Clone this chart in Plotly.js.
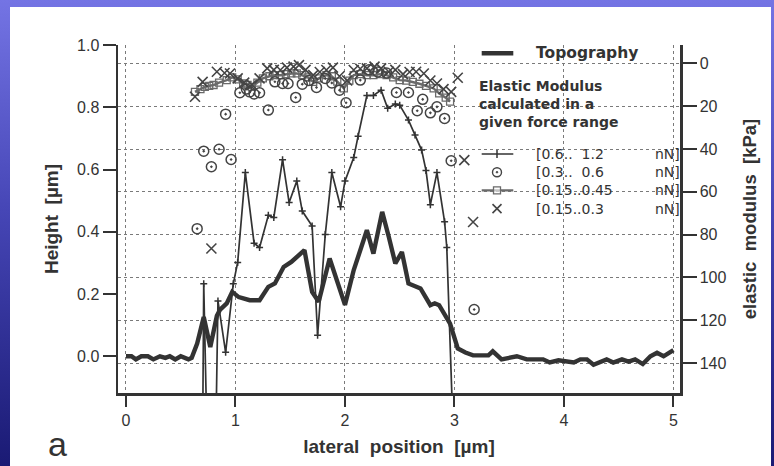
<!DOCTYPE html>
<html>
<head>
<meta charset="utf-8">
<script src="https://cdn.plot.ly/plotly-3.0.1.min.js"></script>
<style>
  html, body { margin: 0; padding: 0; width: 774px; height: 466px; overflow: hidden; }
  body { background: linear-gradient(180deg, #7474e4 0%, #4646b6 45%, #1a1a74 100%); position: relative; }
  #panel { position: absolute; left: 10px; top: 7px; width: 761px; height: 459px; background: #ffffff; }
  #plot { position: absolute; left: 0; top: 0; width: 774px; height: 466px; }
</style>
</head>
<body>
<div id="panel"></div>
<div id="plot"></div>
<script>
// ---------------- data ----------------
// Topography (height, µm) vs lateral position (µm)
const topoX = [0, 0.05, 0.09, 0.14, 0.2, 0.25, 0.31, 0.36, 0.4, 0.45, 0.5, 0.57, 0.6, 0.65, 0.71, 0.77, 0.83, 0.86, 0.92, 0.97,
  1.03, 1.13, 1.22, 1.30, 1.36, 1.44, 1.51, 1.59, 1.63, 1.70, 1.76, 1.86, 2.00, 2.08, 2.12, 2.20, 2.26, 2.34, 2.40, 2.46,
  2.52, 2.58, 2.69, 2.78, 2.82, 2.86, 2.96, 3.03, 3.10, 3.17, 3.31, 3.35, 3.43, 3.57, 3.66, 3.81, 3.87, 3.95, 4.09, 4.15,
  4.21, 4.27, 4.39, 4.45, 4.53, 4.59, 4.65, 4.72, 4.79, 4.85, 4.91, 5.0];
const topoH = [0, 0, -0.01, 0, 0, -0.01, 0, -0.005, 0, -0.01, 0, -0.01, -0.005, 0.041, 0.126, 0.03, 0.13, 0.15, 0.17, 0.207,
  0.19, 0.18, 0.18, 0.223, 0.234, 0.287, 0.303, 0.33, 0.341, 0.207, 0.175, 0.314, 0.165, 0.277, 0.319, 0.405, 0.33, 0.464, 0.384, 0.298,
  0.335, 0.234, 0.218, 0.164, 0.17, 0.164, 0.105, 0.025, 0.012, 0.003, 0.003, 0.016, -0.01, 0.0, -0.01, -0.01, -0.02, -0.013, -0.02, -0.01,
  -0.01, -0.027, -0.01, -0.02, -0.01, -0.017, -0.01, -0.025, 0.0, 0.011, 0.0, 0.02];

// Elastic modulus (kPa), force range [0.6 .. 1.2 nN]  (values beyond the axis are off-scale)
const e12X = [0.70, 0.71, 0.74, 0.82, 0.84, 0.91, 0.98, 1.02, 1.09, 1.17, 1.22, 1.30, 1.35, 1.43, 1.49, 1.56, 1.61, 1.70, 1.75, 1.82,
  1.88, 1.96, 2.00, 2.08, 2.12, 2.20, 2.26, 2.33, 2.39, 2.46, 2.50, 2.58, 2.64, 2.70, 2.74, 2.78, 2.84, 2.91, 2.93, 2.99];
const e12Y = [175, 103, 175, 175, 111, 135, 103, 93, 51, 84, 86, 71, 72, 45, 65, 55, 69, 76, 127, 80,
  51, 67, 55, 44, 34, 15, 15, 12.5, 21, 19, 19.5, 26.5, 33.5, 40.5, 50, 66, 51, 74, 86, 175];

// [0.3 .. 0.6 nN]
const e06X = [0.65, 0.71, 0.78, 0.85, 0.91, 0.96, 1.04, 1.10, 1.13, 1.17, 1.22, 1.30, 1.36, 1.43, 1.48, 1.55, 1.61, 1.67, 1.74, 1.82,
  1.88, 1.95, 2.01, 2.14, 2.22, 2.30, 2.38, 2.47, 2.58, 2.66, 2.71, 2.78, 2.84, 2.91, 2.97, 3.18];
const e06Y = [77.2, 41.0, 48.3, 40.1, 23.7, 44.9, 13.7, 12, 13.3, 14.3, 13.7, 21.8, 8.6, 9.4, 9.4, 15.9, 9.7, 8, 11.2, 7,
  9.1, 12.5, 18.4, 7.8, 3, 4, 4.5, 13.6, 13.6, 22.1, 16.8, 23.1, 20.3, 25.7, 45.5, 115];

// [0.15 .. 0.45 nN]
const e045X = [0.63, 0.68, 0.72, 0.76, 0.80, 0.85, 0.92, 0.97, 1.02, 1.07, 1.11, 1.15, 1.20, 1.25, 1.31, 1.36, 1.41, 1.46, 1.51, 1.56,
  1.61, 1.66, 1.71, 1.76, 1.83, 1.88, 1.93, 1.99, 2.04, 2.08, 2.14, 2.20, 2.26, 2.32, 2.38, 2.44, 2.50, 2.56, 2.62, 2.68,
  2.74, 2.81, 2.86, 2.92, 2.96];
const e045Y = [13.3, 12, 11, 10.5, 10.1, 9, 7.8, 6.5, 7.5, 9.4, 10, 11, 9, 7, 6, 5.5, 5.5, 5, 4.7, 4.7,
  5.5, 6.5, 8.6, 7, 5.5, 6, 8.5, 11.7, 8, 5.5, 5, 5.5, 5.5, 5, 5.5, 6.5, 7.8, 8, 8.6, 9.5,
  10.5, 11.7, 14, 16, 17.9];

// [0.15 .. 0.3 nN]
const e03X = [0.63, 0.70, 0.78, 0.83, 0.90, 0.95, 1.02, 1.08, 1.15, 1.22, 1.29, 1.35, 1.41, 1.47, 1.53, 1.58, 1.64, 1.71, 1.77, 1.83,
  1.89, 1.95, 2.02, 2.08, 2.14, 2.20, 2.27, 2.33, 2.40, 2.46, 2.53, 2.59, 2.65, 2.72, 2.78, 2.84, 2.90, 2.97, 3.03, 3.09, 3.17];
const e03Y = [15.6, 8.6, 86.5, 3.9, 4.5, 4.7, 7, 9, 10, 7, 2.3, 3, 3.1, 2, 1.5, 0.8, 3, 5.5, 4, 3.1,
  2, 6, 8, 3.1, 2.5, 2.3, 1.5, 2.3, 3.9, 3, 5, 4, 3.9, 4.7, 8, 9.4, 12, 13.3, 6.7, 45.2, 74.1];

const xTicks = [0, 1, 2, 3, 4, 5];
const hTicks = [0, 0.2, 0.4, 0.6, 0.8, 1.0];
const eTicks = [0, 20, 40, 60, 80, 100, 120, 140];
const legendHead = ['Elastic Modulus', 'calculated in a', 'given force range'];
const legendLabels = ['[0.6..&nbsp; 1.2', '[0.3..&nbsp; 0.6', '[0.15..0.45', '[0.15..0.3'];
const legendUnit = 'nN]';

// ---------------- styling ----------------
const INK = '#333333';
const FONT = 'Liberation Sans, Arial, Helvetica, sans-serif';
const LFONT = 'DejaVu Sans, Verdana, sans-serif';
const M = {l: 118, r: 94, t: 45, b: 73};
const W = 774, H = 466;
const PW = W - M.l - M.r, PH = H - M.t - M.b;
const px = v => (v - M.l) / PW;          // pixel -> paper x
const py = v => 1 - (v - M.t) / PH;      // pixel -> paper y

const traces = [
  {x: topoX, y: topoH, type: 'scatter', mode: 'lines', yaxis: 'y',
   line: {color: INK, width: 4.4}, hoverinfo: 'skip', showlegend: false},
  {x: e045X, y: e045Y, type: 'scatter', mode: 'lines+markers', yaxis: 'y2',
   line: {color: '#6a6a6a', width: 2.4}, marker: {symbol: 'square-open', size: 7, color: '#6a6a6a', line: {color: '#6a6a6a', width: 1.3}},
   hoverinfo: 'skip', showlegend: false},
  {x: e12X, y: e12Y, type: 'scatter', mode: 'lines+markers', yaxis: 'y2',
   line: {color: INK, width: 1.7}, marker: {symbol: 'cross-thin-open', size: 5, line: {color: INK, width: 1.5}},
   hoverinfo: 'skip', showlegend: false},
  {x: e06X, y: e06Y, type: 'scatter', mode: 'markers', yaxis: 'y2',
   marker: {symbol: 'circle-open-dot', size: 10, color: '#444', line: {color: '#444', width: 1.5}},
   hoverinfo: 'skip', showlegend: false},
  {x: e03X, y: e03Y, type: 'scatter', mode: 'markers', yaxis: 'y2',
   marker: {symbol: 'x-thin-open', size: 10, color: '#444', line: {color: '#444', width: 1.6}},
   hoverinfo: 'skip', showlegend: false}
];

const ann = [];
const shapes = [];
function text(t, x, y, size, bold, anchor, family) {
  ann.push({text: bold ? '<b>' + t + '</b>' : t, xref: 'paper', yref: 'paper', x: px(x), y: py(y),
    xanchor: anchor || 'left', yanchor: 'middle', align: 'left', showarrow: false,
    font: {family: family || LFONT, size: size, color: INK}});
}
function seg(x0, y0, x1, y1, w, c) {
  shapes.push({type: 'line', xref: 'paper', yref: 'paper', x0: px(x0), y0: py(y0), x1: px(x1), y1: py(y1),
    line: {color: c || INK, width: w}});
}
// legend block
const LS = 14, LH = LS * 1.3;
seg(481.7, 53.3, 513.3, 53.3, 4.4);
text('Topography', 534, 53.3, 15.5, true);
text(legendHead.join('<br>'), 477, 86 + LH, LS, true);
const row0 = 154;
const rowY = [0, 1, 2, 3].map(i => row0 + i * LH);
text(legendLabels.join('<br>'), 534, row0 + 1.5 * LH, LS, false);
text([0, 1, 2, 3].map(() => legendUnit).join('<br>'), 653, row0 + 1.5 * LH, LS, false);
// key 1: thin line with +
seg(481.7, rowY[0], 513.3, rowY[0], 1.7);
seg(497, rowY[0] - 4, 497, rowY[0] + 4, 1.5);
// key 2: circle with dot
shapes.push({type: 'circle', xref: 'paper', yref: 'paper', x0: px(492.5), x1: px(501.5), y0: py(rowY[1] + 4.5), y1: py(rowY[1] - 4.5),
  line: {color: '#444', width: 1.4}});
shapes.push({type: 'circle', xref: 'paper', yref: 'paper', x0: px(496.2), x1: px(497.8), y0: py(rowY[1] + 0.8), y1: py(rowY[1] - 0.8),
  line: {color: '#444', width: 1}, fillcolor: '#444'});
// key 3: line with square
seg(481.7, rowY[2], 513.3, rowY[2], 2.4, '#6a6a6a');
shapes.push({type: 'rect', xref: 'paper', yref: 'paper', x0: px(493.5), x1: px(500.5), y0: py(rowY[2] + 3.5), y1: py(rowY[2] - 3.5),
  line: {color: '#6a6a6a', width: 1.3}, fillcolor: 'rgba(255,255,255,0.6)'});
// key 4: x
seg(492.5, rowY[3] - 4.5, 501.5, rowY[3] + 4.5, 1.6, '#444');
seg(492.5, rowY[3] + 4.5, 501.5, rowY[3] - 4.5, 1.6, '#444');
// panel letter
text('a', 57, 444, 34, false, 'center', FONT);

const layout = {
  width: W, height: H,
  margin: M,
  paper_bgcolor: 'rgba(0,0,0,0)',
  plot_bgcolor: 'rgba(0,0,0,0)',
  showlegend: false,
  font: {family: FONT, color: INK, size: 16},
  xaxis: {
    range: [-0.073, 5.06], tickvals: xTicks, ticktext: xTicks.map(String),
    ticks: 'outside', ticklen: 11, tickwidth: 2, tickcolor: INK,
    showline: true, linewidth: 2.5, linecolor: INK, zeroline: false,
    showgrid: true, gridcolor: '#7a7a7a', griddash: 'dot', gridwidth: 1,
    tickfont: {family: FONT, size: 16, color: INK},
    title: {text: '<b>lateral  position  [µm]</b>', font: {family: FONT, size: 19, color: INK}, standoff: 12}
  },
  yaxis: {
    range: [-0.118, 1.0], tickvals: hTicks, ticktext: hTicks.map(v => v.toFixed(1)),
    ticks: 'outside', ticklen: 13, tickwidth: 2, tickcolor: INK,
    showline: true, linewidth: 2.5, linecolor: INK, zeroline: false, showgrid: false,
    tickfont: {family: FONT, size: 16, color: INK},
    title: {text: '<b>Height  [µm]</b>', font: {family: FONT, size: 19, color: INK}, standoff: 14}
  },
  yaxis2: {
    overlaying: 'y', side: 'right', anchor: 'x',
    range: [154, -8.6], tickvals: eTicks, ticktext: eTicks.map(String),
    ticks: 'outside', ticklen: 14, tickwidth: 2, tickcolor: INK,
    showline: true, linewidth: 2.5, linecolor: INK, zeroline: false,
    showgrid: true, gridcolor: '#7a7a7a', griddash: 'dot', gridwidth: 1,
    tickfont: {family: FONT, size: 16, color: INK},
    title: {text: '<b>elastic  modulus  [kPa]</b>', font: {family: FONT, size: 18.5, color: INK}, standoff: 18}
  },
  annotations: ann,
  shapes: shapes
};

Plotly.newPlot('plot', traces, layout, {staticPlot: true, displayModeBar: false});
</script>
</body>
</html>
